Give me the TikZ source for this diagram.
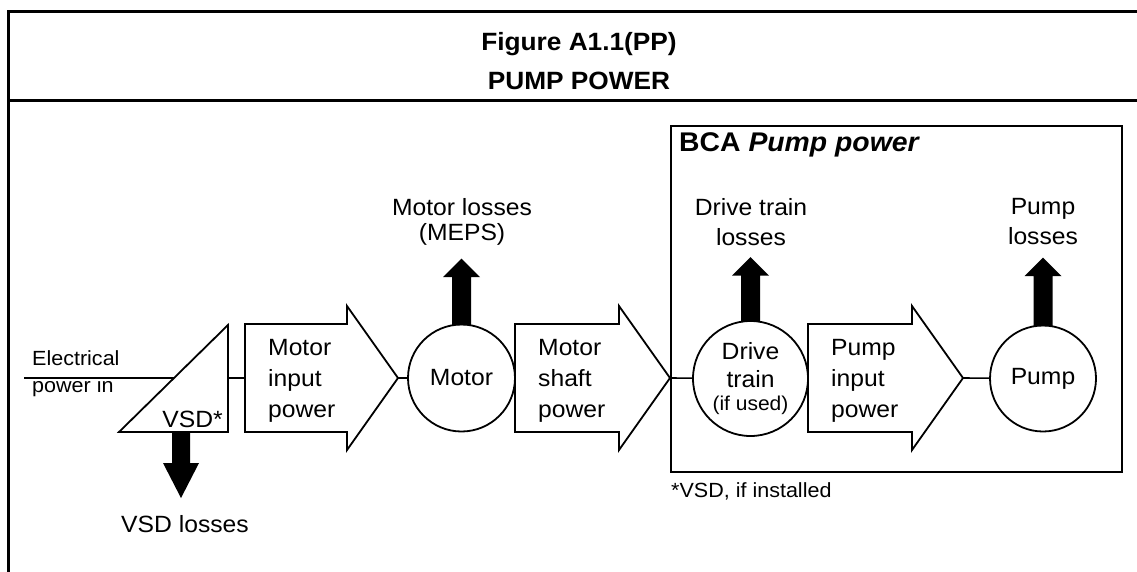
\documentclass[tikz,border=0pt]{standalone}
\usepackage{fontspec}
\setmainfont{Liberation Sans}[FakeStretch=1.05]
\usetikzlibrary{positioning}

% block arrow carrying power: name, left x, tip x, text
\newcommand\powerarrow[4]{%
  \draw[unit] (#2,324) -- ({#3-51},324) -- ({#3-51},306) -- (#3,378)
    -- ({#3-51},450) -- ({#3-51},432) -- (#2,432) -- cycle;
  \coordinate (#1-in) at (#2,378);
  \coordinate (#1-tip) at (#3,378);
  \node[lbl, anchor=north west] (#1) at ({#2+23},339) {#4};}

% black loss arrow leaving a unit upwards: node, shaft length
\newcommand\lossup[2]{%
  \fill ([yshift=-1.5pt]#1.north) ++(-9.5,0) -- ++(0,-#2) -- ++(-9,0)
    -- ++(18.5,-18.5) -- ++(18.5,18.5) -- ++(-9,0) -- ++(0,#2) -- cycle;}

\begin{document}
\begin{tikzpicture}[x=1pt, y=-1pt,
  unit/.style={line width=1.8pt, line join=miter},
  wire/.style={line width=1.6pt},
  unitcircle/.style={circle, draw, line width=1.8pt, inner sep=0pt,
    minimum size=#1, align=center, font=\fontsize{23.5}{31}\selectfont},
  lbl/.style={inner sep=0pt, align=left, font=\fontsize{23.5}{31}\selectfont},
  losslbl/.style={inner sep=0pt, align=center, anchor=north,
    font=\fontsize{23.5}{30}\selectfont},
  note/.style={inner sep=0pt, align=left, font=\fontsize{20.5}{27}\selectfont},
  head/.style={inner sep=0pt, font=\bfseries\fontsize{25}{30}\selectfont}]
  \useasboundingbox (0,0) rectangle (1137,571);

  % frame and heading
  \draw[line width=3pt] (1140,11.7) -- (8,11.7) -- (8,575);
  \draw[line width=3pt] (8,100) -- (1140,100);
  \node[head, anchor=base] (fig) at (579,50) {Figure A1.1(PP)};
  \node[head, anchor=base] (ttl) at (579,89) {PUMP POWER};

  % VSD wedge
  \coordinate (vsd-top) at (228,325);
  \coordinate (vsd-left) at (119,432);
  \coordinate (vsd-right) at (228,432);
  \draw[unit] (vsd-top) -- (vsd-left) -- (vsd-right) -- cycle;
  \coordinate (vsd-in) at (174,378);
  \coordinate (vsd-out) at (228,378);
  \coordinate (vsd-base) at (181,432);
  \node[lbl, anchor=base east] (vsd) at (223,427) {VSD*};
  \coordinate (elec) at (24,378);
  \node[note, anchor=north west] (elec-lbl) at (32,350) {Electrical\\power in};
  \draw[wire] (elec) -- (vsd-in);
  \fill ([yshift=1pt]vsd-base) ++(-9,0) -- ++(0,32) -- ++(-9,0)
    -- ++(18,35) -- ++(18,-35) -- ++(-9,0) -- ++(0,-32) -- cycle;
  \node[lbl, anchor=north] (vsd-loss) at (185,515) {VSD losses};

  % power chain
  \powerarrow{mip}{245}{398}{Motor\\input\\power}
  \node[unitcircle=107pt] (motor) at (461.5,378) {Motor};
  \powerarrow{msp}{515}{670}{Motor\\shaft\\power}
  \node[unitcircle=115pt] (drive) at (750.5,378.5)
    {Drive\\[-3pt]train\\[-8pt]{\fontsize{20}{24}\selectfont(if used)}};
  \powerarrow{pip}{808}{963}{Pump\\input\\power}
  \node[unitcircle=106pt] (pump) at (1043,378.5) {Pump};

  \draw[wire] (vsd-out) -- (mip-in);
  \draw[wire] (mip-tip) -- (motor);
  \draw[wire] (msp-tip) -- (drive);
  \draw[wire] (pip-tip) -- (pump);

  % losses
  \lossup{motor}{48}
  \lossup{drive}{46}
  \lossup{pump}{50}
  \node[losslbl] (motor-loss) at (462,198.5) {Motor losses\\[-5pt](MEPS)};
  \node[losslbl] (drive-loss) at (751,198.5) {Drive train\\losses};
  \node[losslbl] (pump-loss) at (1043,198.5) {Pump\\losses};

  % BCA boundary
  \node[draw, line width=2.2pt, minimum width=451pt, minimum height=346pt,
    inner sep=0pt] (bca) at (896.5,299) {};
  \node[head, font=\bfseries\fontsize{27}{30}\selectfont, anchor=base west]
    (bca-lbl) at (679,151.5) {BCA \textit{Pump power}};
  \node[note, anchor=base west] (vsd-note) at (671,497) {*VSD, if installed};
\end{tikzpicture}
\end{document}
